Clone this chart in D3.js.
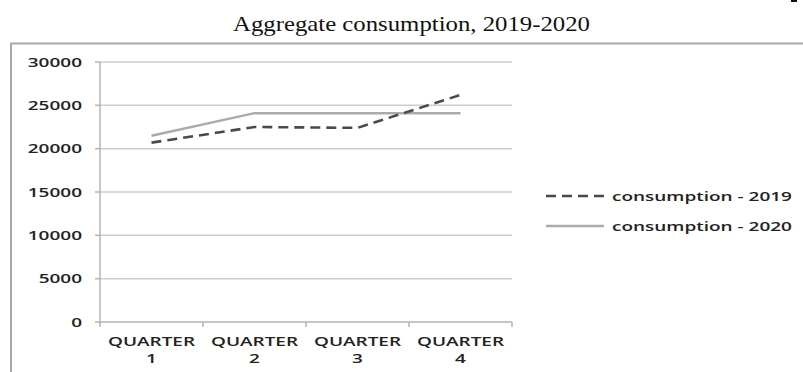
<!DOCTYPE html>
<html>
<head>
<meta charset="utf-8">
<script src="https://cdn.jsdelivr.net/npm/d3@7"></script>
<style>
html,body{margin:0;padding:0;background:#fff;overflow:hidden;}
svg{display:block;}
</style>
</head>
<body>
<svg id="chart" width="803" height="372"></svg>
<script>
const categories = ["QUARTER 1", "QUARTER 2", "QUARTER 3", "QUARTER 4"];
const consumption2019 = [20700, 22500, 22400, 26200];
const consumption2020 = [21500, 24100, 24100, 24100];
const yTicks = [0, 5000, 10000, 15000, 20000, 25000, 30000];
const seriesNames = ["consumption - 2019", "consumption - 2020"];
const titleText = "Aggregate consumption, 2019-2020";

const svg = d3.select("#chart");
const SX = 1.46;
const textColor = "#222";
const labelFont = "'Open Sans', sans-serif";

// small stray mark at the top-right edge of the source page
svg.append("rect").attr("x", 791).attr("y", 0).attr("width", 6).attr("height", 2).attr("fill", "#111");

// Title
svg.append("text")
  .attr("x", 233).attr("y", 31)
  .attr("font-family", "'Liberation Serif', 'Times New Roman', serif")
  .attr("font-size", 21.5)
  .attr("fill", "#111")
  .attr("textLength", 357).attr("lengthAdjust", "spacingAndGlyphs")
  .text(titleText);

// Frame
svg.append("rect").attr("x", 11).attr("y", 43.5).attr("width", 900).attr("height", 400)
  .attr("fill", "none").attr("stroke", "#a8a8a8").attr("stroke-width", 2);

const x = d3.scaleBand().domain(categories).range([100, 512]).paddingInner(0).paddingOuter(0);
const y = d3.scaleLinear().domain([0, 30000]).range([322, 62]);

// gridlines
svg.append("g").selectAll("line").data(yTicks.filter(d => d > 0)).join("line")
  .attr("x1", 100).attr("x2", 512)
  .attr("y1", d => y(d)).attr("y2", d => y(d))
  .attr("stroke", "#cdcdcd").attr("stroke-width", 1.5);

// y axis line & ticks
svg.append("line").attr("x1", 100).attr("x2", 100).attr("y1", y(30000)).attr("y2", y(0))
  .attr("stroke", "#b5b5b5").attr("stroke-width", 1.5);
svg.append("g").selectAll("line").data(yTicks).join("line")
  .attr("x1", 95).attr("x2", 100)
  .attr("y1", d => y(d)).attr("y2", d => y(d))
  .attr("stroke", "#b5b5b5").attr("stroke-width", 1.5);

// x axis line & ticks
svg.append("line").attr("x1", 100).attr("x2", 512).attr("y1", y(0)).attr("y2", y(0))
  .attr("stroke", "#b5b5b5").attr("stroke-width", 1.5);
const boundaries = categories.map(c => x(c)).concat([x(categories[categories.length-1]) + x.bandwidth()]);
svg.append("g").selectAll("line").data(boundaries).join("line")
  .attr("x1", d => d).attr("x2", d => d)
  .attr("y1", y(0)).attr("y2", y(0) + 5)
  .attr("stroke", "#b5b5b5").attr("stroke-width", 1.5);

// y tick labels
svg.append("g").selectAll("g").data(yTicks).join("g")
  .attr("transform", d => `translate(82,${y(d) + 4.5}) scale(${SX},1)`)
  .append("text")
  .attr("text-anchor", "end")
  .attr("font-family", labelFont).attr("font-size", 13).attr("font-weight", 600)
  .attr("fill", textColor)
  .text(d => d);

// x tick labels (two lines)
const xl = svg.append("g").selectAll("g").data(categories).join("g")
  .attr("transform", d => `translate(${x(d) + x.bandwidth()/2},0) scale(${SX},1)`);
xl.append("text").attr("y", 346).attr("text-anchor", "middle")
  .attr("font-family", labelFont).attr("font-size", 13).attr("font-weight", 600)
  .attr("fill", textColor).text(d => d.split(" ")[0]);
xl.append("text").attr("y", 363).attr("text-anchor", "middle")
  .attr("font-family", labelFont).attr("font-size", 13).attr("font-weight", 600)
  .attr("fill", textColor).text(d => d.split(" ")[1]);

// lines
const line = d3.line().x((d, i) => x(categories[i]) + x.bandwidth()/2).y(d => y(d));
svg.append("path").datum(consumption2020).attr("d", line)
  .attr("fill", "none").attr("stroke", "#ababab").attr("stroke-width", 2.5);
svg.append("path").datum(consumption2019).attr("d", line)
  .attr("fill", "none").attr("stroke", "#4a4a4a").attr("stroke-width", 2.6)
  .attr("stroke-dasharray", "10,6");

// legend
const leg = [
  {name: seriesNames[0], y: 196, stroke: "#4a4a4a", dash: "10,6", x2: 609},
  {name: seriesNames[1], y: 226, stroke: "#ababab", dash: null, x2: 604}
];
leg.forEach(l => {
  svg.append("line").attr("x1", 546).attr("x2", l.x2).attr("y1", l.y).attr("y2", l.y)
    .attr("stroke", l.stroke).attr("stroke-width", 2.6)
    .attr("stroke-dasharray", l.dash);
  svg.append("g").attr("transform", `translate(612,${l.y + 4.5}) scale(${SX},1)`)
    .append("text")
    .attr("font-family", labelFont).attr("font-size", 13).attr("font-weight", 600)
    .attr("fill", textColor).text(l.name);
});
</script>
</body>
</html>
